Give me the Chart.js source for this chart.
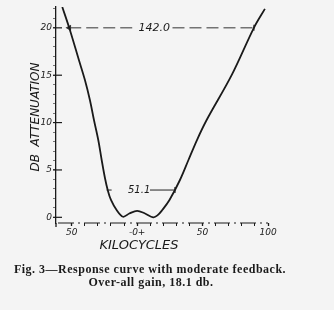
<!DOCTYPE html>
<html>
<head>
<meta charset="utf-8">
<script src="https://cdn.jsdelivr.net/npm/chart.js@4/dist/chart.umd.min.js"></script>
<style>
    html, body { margin: 0; padding: 0; background: #f4f4f4; }
    #wrap { width: 334px; height: 310px; position: relative; }
</style>
</head>
<body>
<div id="wrap"><canvas id="chart"></canvas></div>
<script>
// response curve (kilocycles off resonance, db attenuation)
const curveKc = [-57.2, -51.9, -44.5, -39.9, -36.1, -33.0, -29.7, -27.1, -24.6, -22.5, -20.0, -15.7, -10.8, -6, 0, 6, 12.3, 15.5, 19.2, 24.7, 32.7, 39.2, 45.7, 53.1, 72.2, 89.2, 97.6];
const curveDb = [22.2, 20, 16.6, 14.49, 12.38, 10.27, 8.16, 6.05, 4.15, 2.88, 1.83, 0.77, 0.06, 0.4, 0.69, 0.4, 0.0, 0.2, 0.77, 1.83, 3.94, 6.05, 8.16, 10.27, 15, 20, 22.0];

// bandwidth markers
const bandLevels = [20, 2.88];
const bandLabels = ['142.0', '51.1'];
const bandLabelKc = [13, 1.5];
const bandLeft = [[-51.9, -1], [-23.3, -19.5]];
const bandRight = [[27, 89.2], [9.8, 28.9]];

const xTickValues = [-50, -40, -30, -20, -10, 0, 10, 20, 30, 40, 50, 60, 70, 80, 90, 100];
const xTickLabels = { '-50': '50', '0': '-0+', '50': '50', '100': '100' };
const yTickValues = [0, 1, 2, 3, 4, 5, 6, 7, 8, 9, 10, 11, 12, 13, 14, 15, 16, 17, 18, 19, 20, 21, 22];
const yMajor = [0, 5, 10, 15, 20];

const ink = '#1a1a1a';
const handFont = '"DejaVu Sans", sans-serif';

function bandData(i) {
    const y = bandLevels[i];
    return [
        { x: bandLeft[i][0], y: y },
        { x: bandLeft[i][1], y: y },
        { x: (bandLeft[i][1] + bandRight[i][0]) / 2, y: null },
        { x: bandRight[i][0], y: y },
        { x: bandRight[i][1], y: y }
    ];
}

const textPlugin = {
    id: 'figText',
    afterDraw(chart) {
        const ctx = chart.ctx;
        const xs = chart.scales.x;
        const ys = chart.scales.y;
        ctx.save();
        ctx.fillStyle = ink;
        ctx.strokeStyle = ink;

        // dashed x axis line
        ctx.lineWidth = 1.2;
        ctx.setLineDash([16, 4, 2, 4]);
        ctx.beginPath();
        ctx.moveTo(xs.left + 2, ys.bottom);
        ctx.lineTo(xs.getPixelForValue(100), ys.bottom);
        ctx.stroke();
        ctx.setLineDash([]);

        // y axis runs a little past the x axis
        ctx.lineWidth = 1.3;
        ctx.beginPath();
        ctx.moveTo(xs.left, ys.bottom);
        ctx.lineTo(xs.left, ys.bottom + 4);
        ctx.stroke();

        // major y ticks cross the axis
        ctx.lineWidth = 1.2;
        yMajor.forEach(v => {
            const py = ys.getPixelForValue(v);
            ctx.beginPath();
            ctx.moveTo(xs.left - 3, py);
            ctx.lineTo(xs.left + 6, py);
            ctx.stroke();
        });

        // bandwidth labels
        ctx.textAlign = 'center';
        ctx.textBaseline = 'middle';
        bandLabels.forEach((t, i) => {
            ctx.font = 'italic ' + (i === 0 ? 11 : 10) + 'px ' + handFont;
            ctx.fillText(t, xs.getPixelForValue(bandLabelKc[i]), ys.getPixelForValue(bandLevels[i]));
        });

        // axis titles
        ctx.font = 'italic 13px ' + handFont;
        ctx.fillText('KILOCYCLES', 139, 246);

        ctx.save();
        ctx.translate(36, 117);
        ctx.rotate(-Math.PI / 2);
        ctx.font = 'italic 12px ' + handFont;
        ctx.fillText('DB  ATTENUATION', 0, 0);
        ctx.restore();

        // caption
        ctx.textBaseline = 'alphabetic';
        ctx.font = 'bold 12px "Liberation Serif", serif';
        ctx.letterSpacing = '0.5px';
        ctx.fillText('Fig. 3\u2014Response curve with moderate feedback.', 150, 272.5);
        ctx.fillText('Over-all gain, 18.1 db.', 151, 285.5);
        ctx.restore();
    }
};

const ctx = document.getElementById('chart').getContext('2d');
const chart = new Chart(ctx, {
    type: 'line',
    data: {
        datasets: [
            {
                data: curveKc.map((x, i) => ({ x: x, y: curveDb[i] })),
                borderColor: ink,
                borderWidth: 1.8,
                pointRadius: 0,
                tension: 0.35,
                fill: false
            },
            {
                data: bandData(0),
                borderColor: '#333',
                borderWidth: 1,
                borderDash: [12, 5],
                spanGaps: false,
                pointStyle: ['triangle', false, false, false, 'line'],
                pointRadius: [2.5, 0, 0, 0, 3],
                pointRotation: [-90, 0, 0, 0, 90],
                pointBackgroundColor: '#333',
                pointBorderColor: '#333',
                pointBorderWidth: 1.2
            },
            {
                data: bandData(1),
                borderColor: '#222',
                borderWidth: 1,
                spanGaps: false,
                pointStyle: [false, false, false, false, 'line'],
                pointRadius: [0, 0, 0, 0, 3],
                pointRotation: [0, 0, 0, 0, 90],
                pointBorderColor: '#222',
                pointBorderWidth: 1.2
            }
        ]
    },
    options: {
        responsive: true,
        maintainAspectRatio: false,
        animation: false,
        layout: { padding: { top: 7, right: 55.5, left: 0, bottom: 0 } },
        plugins: {
            legend: { display: false },
            tooltip: { enabled: false }
        },
        scales: {
            x: {
                type: 'linear',
                min: -62,
                max: 108,
                afterBuildTicks: scale => { scale.ticks = xTickValues.map(v => ({ value: v })); },
                afterFit: scale => { scale.height = 87; },
                border: { display: false },
                grid: {
                    drawOnChartArea: false,
                    tickLength: 3,
                    tickColor: ink,
                    tickWidth: ctx => (xTickLabels[ctx.tick && ctx.tick.value] ? 1.3 : 1)
                },
                ticks: {
                    autoSkip: false,
                    maxRotation: 0,
                    padding: 1,
                    color: ink,
                    font: { family: handFont, size: 9, style: 'italic' },
                    callback: v => xTickLabels[v] || ''
                }
            },
            y: {
                min: -0.6,
                max: 22.2,
                afterBuildTicks: scale => { scale.ticks = yTickValues.map(v => ({ value: v })); },
                afterFit: scale => { scale.width = 56; },
                border: { display: true, color: ink, width: 1.3 },
                grid: {
                    drawOnChartArea: false,
                    tickLength: 3,
                    tickColor: '#555',
                    tickWidth: 0.8
                },
                ticks: {
                    autoSkip: false,
                    padding: 1,
                    color: ink,
                    font: { family: handFont, size: 9, style: 'italic' },
                    callback: v => (yMajor.includes(v) ? String(v) : '')
                }
            }
        }
    },
    plugins: [textPlugin]
});
</script>
</body>
</html>
